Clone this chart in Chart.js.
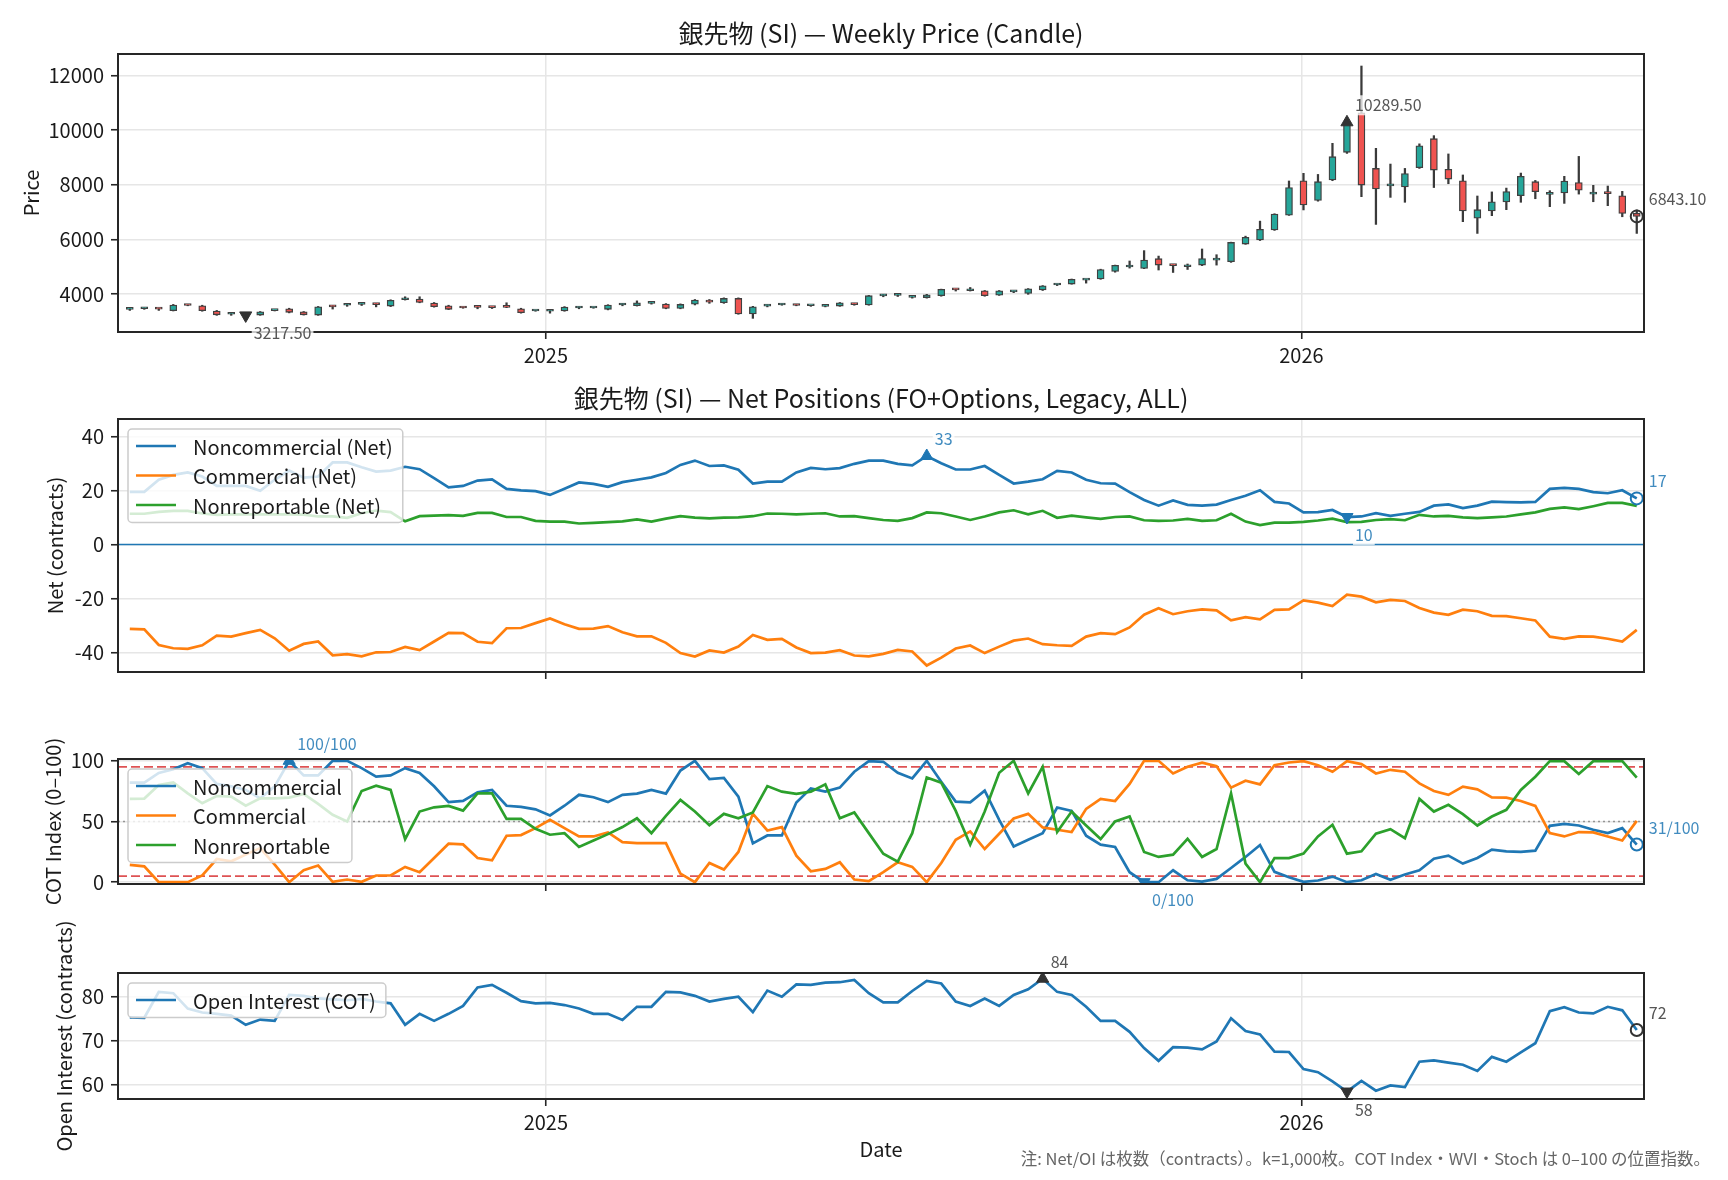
<!DOCTYPE html>
<html>
<head>
<meta charset="utf-8">
<script src="https://cdn.jsdelivr.net/npm/chart.js@4.4.1/dist/chart.umd.min.js"></script>
<style>
html, body { margin: 0; padding: 0; background: #fff; }
#wrap { position: relative; width: 1728px; height: 1180px; }
#wrap canvas { position: absolute; left: 0; top: 0; }
</style>
</head>
<body>
<div id="wrap">
  <canvas id="price" width="1728" height="1180"></canvas>
  <canvas id="net" width="1728" height="1180"></canvas>
  <canvas id="cot" width="1728" height="1180"></canvas>
  <canvas id="oi" width="1728" height="1180"></canvas>
</div>
<script>
// ---- data (weekly, 105 weeks) ----
const DAY = 86400000;
const START = Date.UTC(2024, 5, 14);
const weeks = Array.from({ length: 105 }, (_, i) => START + i * 7 * DAY);
const yearTicks = [Date.UTC(2025, 0, 1), Date.UTC(2026, 0, 1)];
const yearLabels = ['2025', '2026'];

const open = [3440,3460,3470,3390,3590,3570,3380,3260,3270,3230,
  3390,3460,3350,3230,3560,3590,3620,3640,3560,3790,
  3820,3670,3570,3500,3530,3510,3530,3460,3380,3370,
  3380,3490,3490,3440,3600,3570,3660,3630,3475,3630,
  3780,3680,3840,3270,3560,3600,3600,3570,3550,3560,
  3650,3600,3930,3950,3880,3870,3940,4160,4120,4120,
  3960,4080,4020,4150,4330,4365,4510,4550,4830,4990,
  4940,5295,5060,5000,5060,5240,5185,5830,5980,6345,
  6890,8150,7430,8175,9190,10640,8600,7960,7920,8630,
  9690,8570,8150,6780,7040,7370,7600,8115,7650,7700,
  8080,7660,7700,7600,6960];
const high = [3480,3500,3480,3620,3610,3590,3400,3300,3290,3360,
  3420,3480,3360,3545,3580,3650,3680,3660,3790,3900,
  3900,3690,3590,3520,3550,3530,3680,3480,3400,3400,
  3540,3530,3510,3610,3650,3750,3700,3650,3640,3800,
  3800,3860,3860,3550,3610,3640,3620,3590,3590,3690,
  3660,3950,3990,3990,3920,3990,4180,4190,4240,4130,
  4130,4120,4200,4310,4360,4550,4540,4910,5060,5210,
  5590,5390,5080,5100,5650,5440,5900,6120,6670,6940,
  8140,8420,8380,9520,10300,12350,9336,8760,8600,9500,
  9800,9130,8360,7590,7740,7880,8430,8160,7785,8310,
  9040,7980,7955,7760,7080];
const low = [3400,3440,3400,3380,3570,3370,3220,3220,3180,3220,
  3380,3310,3230,3220,3450,3550,3580,3530,3540,3780,
  3680,3520,3430,3480,3460,3470,3500,3300,3370,3300,
  3370,3460,3480,3420,3570,3560,3630,3460,3460,3600,
  3660,3660,3260,3110,3530,3590,3570,3550,3530,3550,
  3590,3590,3900,3910,3850,3850,3920,4110,4110,3920,
  3950,4050,3990,4130,4310,4360,4400,4540,4800,4950,
  4930,4880,4790,4900,5040,5060,5160,5820,5960,6330,
  6880,7080,7400,8150,9150,7565,6550,7540,7360,8600,
  7900,8040,6650,6220,6870,7090,7360,7490,7200,7320,
  7660,7380,7235,6830,6220];
const close = [3450,3480,3450,3600,3580,3390,3240,3280,3217.5,3350,
  3410,3330,3240,3535,3530,3610,3640,3610,3770,3800,
  3690,3540,3440,3490,3510,3500,3510,3320,3380,3370,
  3520,3495,3500,3600,3610,3680,3670,3475,3620,3780,
  3700,3840,3270,3535,3575,3625,3580,3575,3560,3680,
  3610,3940,3950,3955,3890,3975,4170,4150,4130,3940,
  4120,4090,4195,4300,4345,4540,4515,4900,5050,5010,
  5245,5060,5040,5010,5300,5250,5890,6075,6370,6930,
  7900,7260,8115,9030,10289.5,7990,7846,7980,8410,9430,
  8540,8210,7040,7090,7380,7750,8310,7750,7700,8140,
  7800,7690,7680,6950,6843.1];

// net positions, thousand contracts
const ncNet = [19.5,19.5,24,25.8,26.7,25.2,21.7,21.7,21.7,19.9,
  24,27.4,24.8,25.2,30.4,30.4,28.6,27,27.4,28.8,
  27.9,24.6,21.2,21.7,23.7,24.1,20.6,20.1,19.8,18.4,
  20.7,23,22.5,21.4,23.1,24,24.9,26.5,29.5,31.1,
  29.1,29.3,27.7,22.6,23.3,23.3,26.7,28.4,27.9,28.3,
  29.9,31.1,31.1,29.9,29.3,32.8,30.1,27.8,27.8,29.1,
  25.8,22.6,23.3,24.2,27.3,26.7,24,22.7,22.6,19.4,
  16.5,14.4,16.3,14.7,14.4,14.8,16.5,18.1,20.1,15.8,
  15.2,11.9,12,12.8,10.2,10.4,11.6,10.6,11.4,12.1,
  14.4,14.9,13.5,14.4,15.9,15.7,15.6,15.8,20.6,21,
  20.6,19.4,19,20.1,17.1];
const cmNet = [-31.2,-31.4,-37.2,-38.4,-38.6,-37.3,-33.7,-34.1,-32.8,-31.6,
  -34.7,-39.3,-36.8,-35.9,-41,-40.6,-41.4,-39.9,-39.8,-37.9,
  -39.1,-35.9,-32.7,-32.8,-36,-36.5,-31,-30.9,-29.1,-27.4,
  -29.5,-31.2,-31.1,-30.2,-32.5,-34,-34,-36.4,-40.2,-41.5,
  -39.2,-40,-37.8,-33.5,-35.3,-34.9,-38.1,-40.2,-40,-39.1,
  -41.1,-41.4,-40.5,-39,-39.6,-44.8,-41.9,-38.5,-37.4,-40.2,
  -37.8,-35.6,-34.8,-36.9,-37.3,-37.5,-34.1,-32.8,-33.2,-30.7,
  -26,-23.6,-25.8,-24.7,-24,-24.4,-28.1,-26.9,-27.7,-24.2,
  -24,-20.7,-21.5,-22.8,-18.6,-19.3,-21.4,-20.5,-20.9,-23.5,
  -25.2,-26,-24.1,-24.7,-26.4,-26.5,-27.3,-28.1,-34.1,-34.9,
  -34,-34.1,-34.9,-35.9,-31.6];
const nrNet = [11.4,11.4,12.1,12.5,12.5,11.5,11,11.2,11.2,11.2,
  11.2,11.2,11.1,10.4,10.4,9.9,11.6,12.6,12,8.6,
  10.5,10.7,10.9,10.6,11.7,11.7,10.2,10.2,8.8,8.5,
  8.5,7.8,8,8.3,8.6,9.3,8.5,9.6,10.5,10,
  9.7,10,10.1,10.5,11.5,11.4,11.2,11.4,11.6,10.4,
  10.5,9.8,9.1,8.8,9.8,11.9,11.6,10.4,9.1,10.4,
  11.9,12.7,11.2,12.5,9.9,10.7,10.1,9.5,10.2,10.4,
  9,8.8,8.9,9.5,8.8,9,11.4,8.5,7.2,8.1,
  8.1,8.4,8.9,9.6,8.3,8.4,9.1,9.4,9,11,
  10.4,10.6,10.1,9.8,10.1,10.4,11.2,11.9,13.2,13.8,
  13.1,14.2,15.4,15.4,14.3];

// COT index 0-100
const ncIdx = [82,82,90,93,98,94,81,79,76,69,
  79,100,88,88,100,100,94,87,88,94,
  90,79,66,67,74,76,63,62,60,55,
  63,72,70,66,72,73,76,73,92,100,
  85,86,70.5,32,38.5,38.5,65.6,77.3,74.6,77.9,
  91,99.7,99.2,90.2,85.5,100,82.8,66.4,65.8,75.4,
  51.4,29.5,35,40.4,61.5,58.7,38.3,30.9,29,8.2,
  0,0,9.8,1.6,0.5,2.7,11.7,20.8,30.6,8.5,
  4,0.3,1.4,4.6,0,1.6,6.8,1.9,6.3,9.8,
  19.4,21.9,15.3,19.9,26.8,25.4,24.9,26,46.4,48.1,
  46.7,43.2,40.4,44.5,31];
const cmIdx = [14.2,13.1,0,0,0,5.5,19.1,17.2,22.7,28.1,
  14.5,0,9.8,13.7,0.3,2.2,0.3,5.5,5.5,12.6,
  8.2,19.9,31.7,31.1,19.9,18,38.3,38.8,44.5,51.4,
  44.5,37.7,37.7,41,33,32.2,32.2,32.2,7.1,0,
  15.8,10.4,24.9,56.3,42.6,45.4,21.9,9,10.9,16.4,
  2.2,0.8,8.2,16.4,12.6,0,15.8,35,41.8,27.3,
  39.9,52.5,56.3,45.1,43.2,41.3,60.4,68.6,66.9,80.9,
  100,100,89.6,95.1,98.4,95.6,77.9,83.6,80.6,96.4,
  98.6,99.7,96.4,91,99.7,97.3,89.6,92.6,91,81.4,
  75.1,71.9,78.7,76.5,69.9,69.7,66.9,62.8,40.4,37.7,
  41.3,41,37.7,34.4,50.5];
const nrIdx = [68.6,68.9,80,82.2,73.2,65,71,70.5,63.1,69.1,
  69.1,69.7,72.7,64.5,55.5,50,75.1,79.5,76,35.5,
  58.2,61.7,62.8,59,73.2,73.2,52.2,52.2,44,39.1,
  40.4,29,34.4,39.6,45.4,52.7,40.4,54.6,67.8,58.2,
  47,56.3,52.7,57.4,79.2,74.6,72.7,74.6,80.6,52.7,
  57.4,40.4,23.5,16.9,40.4,86.3,82,58.7,30.9,58.2,
  90.2,100,73.2,95.1,41.3,58.2,46.7,35.5,50,54.1,
  24.9,20.8,22.7,35.8,20.8,27.3,73.2,15.3,0,19.9,
  19.9,23.5,37.7,47.3,23.5,25.4,39.9,43.7,36.3,68.6,
  58.2,63.7,56,46.7,54.1,59.6,76,86.9,99.7,99.7,
  89.1,99.7,99.7,99.7,86.1];

// open interest, thousand contracts
const oi = [75.3,75.2,81.1,80.8,77.3,76.4,76.1,75.7,73.6,74.8,
  74.5,80.4,80.2,79.6,79.4,79.2,79.5,78.9,78.5,73.6,
  76.1,74.5,76.1,77.9,82.1,82.7,80.9,79,78.5,78.6,
  78.1,77.3,76.1,76.1,74.7,77.7,77.7,81.1,81,80.2,
  78.9,79.5,80,76.5,81.4,80,82.8,82.7,83.2,83.3,
  83.8,80.8,78.7,78.7,81.3,83.6,83,78.9,77.9,79.6,
  77.9,80.4,81.7,84.1,81.1,80.4,77.7,74.5,74.5,72,
  68.3,65.4,68.5,68.4,68,69.8,75.1,72.2,71.4,67.5,
  67.4,63.5,62.8,60.7,58.4,60.8,58.6,59.8,59.4,65.2,
  65.5,65,64.5,63.1,66.3,65.2,67.3,69.4,76.7,77.6,
  76.4,76.2,77.7,76.9,72.4];

const priceTicks = [4000, 6000, 8000, 10000, 12000];
const netTicks = [-40, -20, 0, 20, 40];
const cotTicks = [0, 50, 100];
const oiTicks = [60, 70, 80];

// ---- styling ----
const FONT = '"Noto Sans CJK JP", "Noto Sans", sans-serif';
const TEXT = '#1a1a1a';
const GRID = '#e6e6e6';
const FRAME = '#262626';
const C0 = '#1f77b4', C1 = '#ff7f0e', C2 = '#2ca02c';
const UP = '#26a69a', DOWN = '#ef5350';
const PLOT_LEFT = 118, PLOT_RIGHT = 1644;
const X_MIN = weeks[0] - 5.7 * DAY, X_MAX = weeks[weeks.length - 1] + 3.5 * DAY;

function font(size) { return size + 'px ' + FONT; }

function extremes(values) {
  let hi = 0, lo = 0;
  values.forEach((v, i) => {
    if (v > values[hi]) hi = i;
    if (v < values[lo]) lo = i;
  });
  return { hi, lo, last: values.length - 1 };
}

function markerSets(values, color) {
  const e = extremes(values);
  const base = { type: 'line', showLine: false, order: -1, pointBorderColor: color };
  return [
    Object.assign({}, base, { data: [{ x: weeks[e.hi], y: values[e.hi] }], pointStyle: 'triangle', pointRadius: 7, pointBackgroundColor: color }),
    Object.assign({}, base, { data: [{ x: weeks[e.lo], y: values[e.lo] }], pointStyle: 'triangle', pointRotation: 180, pointRadius: 7, pointBackgroundColor: color }),
    Object.assign({}, base, { data: [{ x: weeks[e.last], y: values[e.last] }], pointStyle: 'circle', pointRadius: 6, pointBorderWidth: 2, pointBackgroundColor: 'rgba(0,0,0,0)' })
  ];
}

function notesFor(values, fmt, color) {
  const e = extremes(values);
  return [
    { x: weeks[e.hi], y: values[e.hi], text: fmt(values[e.hi]), dx: 8, dy: -17, color },
    { x: weeks[e.lo], y: values[e.lo], text: fmt(values[e.lo]), dx: 8, dy: 18, color },
    { x: weeks[e.last], y: values[e.last], text: fmt(values[e.last]), dx: 12, dy: -17, color }
  ];
}

function lineSet(label, values, color, order) {
  return {
    label, data: weeks.map((x, i) => ({ x, y: values[i] })),
    borderColor: color, backgroundColor: color, borderWidth: 2.7,
    pointRadius: 0, tension: 0, order
  };
}

// draws titles, axis labels, reference lines, legend box, frame and value notes
const panelPlugin = {
  id: 'panel',
  beforeDatasetsDraw(chart, args, o) {
    const ctx = chart.ctx, a = chart.chartArea, y = chart.scales.y;
    ctx.save();
    ctx.beginPath();
    ctx.rect(a.left, a.top, a.right - a.left, a.bottom - a.top);
    ctx.clip();
    (o.refLines || []).forEach(r => {
      const py = y.getPixelForValue(r.value);
      ctx.strokeStyle = r.color;
      ctx.lineWidth = r.width;
      ctx.setLineDash(r.dash || []);
      ctx.beginPath();
      ctx.moveTo(a.left, py);
      ctx.lineTo(a.right, py);
      ctx.stroke();
    });
    ctx.restore();
  },
  afterDatasetsDraw(chart, args, o) {
    const ctx = chart.ctx, a = chart.chartArea;
    // legend
    if (o.legend) {
      ctx.save();
      ctx.font = font(20);
      const tw = Math.max(...o.legend.map(it => ctx.measureText(it.label).width));
      const bx = a.left + 10, by = a.top + 10;
      const bw = 75 + tw, bh = o.legend.length * 29.5 + 5;
      ctx.beginPath();
      if (ctx.roundRect) ctx.roundRect(bx, by, bw, bh, 4); else ctx.rect(bx, by, bw, bh);
      ctx.fillStyle = 'rgba(255,255,255,0.8)';
      ctx.fill();
      ctx.strokeStyle = '#cccccc';
      ctx.lineWidth = 1.5;
      ctx.stroke();
      o.legend.forEach((it, k) => {
        const cy = by + 17 + k * 29.5;
        ctx.strokeStyle = it.color;
        ctx.lineWidth = 2.7;
        ctx.beginPath();
        ctx.moveTo(bx + 8, cy);
        ctx.lineTo(bx + 48, cy);
        ctx.stroke();
        ctx.fillStyle = TEXT;
        ctx.textBaseline = 'middle';
        ctx.textAlign = 'left';
        ctx.fillText(it.label, bx + 65, cy + 1);
      });
      ctx.restore();
    }
    // frame
    ctx.save();
    ctx.strokeStyle = FRAME;
    ctx.lineWidth = 2;
    ctx.strokeRect(a.left, a.top, a.right - a.left, a.bottom - a.top);
    ctx.restore();
    // notes
    (o.notes || []).forEach(n => {
      const px = chart.scales.x.getPixelForValue(n.x) + n.dx;
      const py = chart.scales.y.getPixelForValue(n.y) + n.dy;
      ctx.save();
      ctx.font = font(16);
      const w = ctx.measureText(n.text).width;
      ctx.fillStyle = 'rgba(255,255,255,0.75)';
      ctx.fillRect(px - 2, py - 10, w + 4, 20);
      ctx.fillStyle = n.color;
      ctx.textBaseline = 'middle';
      ctx.textAlign = 'left';
      ctx.fillText(n.text, px, py);
      ctx.restore();
    });
  },
  afterDraw(chart, args, o) {
    const ctx = chart.ctx, a = chart.chartArea;
    ctx.save();
    ctx.fillStyle = TEXT;
    ctx.textBaseline = 'middle';
    if (o.title) {
      ctx.font = font(25);
      ctx.textAlign = 'center';
      ctx.fillText(o.title.text, (a.left + a.right) / 2, o.title.y);
    }
    if (o.xlabel) {
      ctx.font = font(20);
      ctx.textAlign = 'center';
      ctx.fillText(o.xlabel.text, (a.left + a.right) / 2, o.xlabel.y);
    }
    if (o.ylabel) {
      ctx.save();
      ctx.translate(o.ylabel.x, (a.top + a.bottom) / 2);
      ctx.rotate(-Math.PI / 2);
      ctx.font = font(20);
      ctx.textAlign = 'center';
      ctx.fillText(o.ylabel.text, 0, 0);
      ctx.restore();
    }
    if (o.footnote) {
      ctx.font = font(16.5);
      ctx.fillStyle = '#666';
      ctx.textAlign = 'right';
      ctx.fillText(o.footnote.text, o.footnote.x, o.footnote.y);
    }
    ctx.restore();
  }
};
Chart.register(panelPlugin);

function xScale(showLabels) {
  return {
    type: 'linear', min: X_MIN, max: X_MAX, offset: false,
    afterBuildTicks: s => { s.ticks = yearTicks.map(v => ({ value: v })); },
    afterFit: s => { s.height = 40; },
    ticks: {
      display: showLabels, autoSkip: false, maxRotation: 0, padding: 4,
      font: { family: FONT, size: 20 }, color: TEXT,
      callback: (v, i) => yearLabels[i]
    },
    grid: { color: GRID, lineWidth: 1.5, offset: false, drawTicks: true, tickLength: 7, tickColor: FRAME, tickWidth: 1.6 },
    border: { display: false }
  };
}

function yScale(min, max, ticks) {
  return {
    type: 'linear', min, max,
    afterBuildTicks: s => { s.ticks = ticks.map(v => ({ value: v })); },
    afterFit: s => { s.width = PLOT_LEFT; },
    ticks: { padding: 7, font: { family: FONT, size: 20 }, color: TEXT, callback: v => String(v) },
    grid: { color: GRID, lineWidth: 1.5, drawTicks: true, tickLength: 7, tickColor: FRAME, tickWidth: 1.6 },
    border: { display: false }
  };
}

function options(top, bottom, showX, y, panel) {
  return {
    responsive: false, animation: false, events: [], devicePixelRatio: 1,
    layout: { padding: { left: 0, right: 1728 - PLOT_RIGHT, top: top, bottom: 1180 - bottom - 40 } },
    plugins: { legend: { display: false }, tooltip: { enabled: false }, panel },
    scales: { x: xScale(showX), y }
  };
}

// ---- price (candles as floating bars) ----
new Chart(document.getElementById('price'), {
  type: 'bar',
  data: {
    datasets: [
      {
        label: 'wick', data: weeks.map((x, i) => ({ x, y: [low[i], high[i]] })),
        backgroundColor: '#3a3a3a', barThickness: 2, maxBarThickness: 1.6, grouped: false, order: 2
      },
      {
        label: 'body', data: weeks.map((x, i) => ({ x, y: [open[i], close[i]] })),
        backgroundColor: close.map((c, i) => (c >= open[i] ? UP : DOWN)),
        borderColor: '#404040', borderWidth: 1.3, borderSkipped: false,
        barThickness: 7, maxBarThickness: 7, minBarLength: 2, grouped: false, order: 1
      },
      ...markerSets(close, '#333')
    ]
  },
  options: options(54, 332, true, yScale(2610, 12790, priceTicks), {
    title: { text: '銀先物 (SI) — Weekly Price (Candle)', y: 33 },
    ylabel: { text: 'Price', x: 31 },
    notes: notesFor(close, v => v.toFixed(2), '#555')
  })
});

// ---- net positions ----
new Chart(document.getElementById('net'), {
  type: 'line',
  data: {
    datasets: [
      lineSet('Noncommercial (Net)', ncNet, C0, 3),
      lineSet('Commercial (Net)', cmNet, C1, 2),
      lineSet('Nonreportable (Net)', nrNet, C2, 1),
      ...markerSets(ncNet, C0)
    ]
  },
  options: options(419, 672, false, yScale(-47.2, 46.5, netTicks), {
    title: { text: '銀先物 (SI) — Net Positions (FO+Options, Legacy, ALL)', y: 398 },
    ylabel: { text: 'Net (contracts)', x: 55 },
    refLines: [{ value: 0, color: C0, width: 1.6 }],
    legend: [
      { label: 'Noncommercial (Net)', color: C0 },
      { label: 'Commercial (Net)', color: C1 },
      { label: 'Nonreportable (Net)', color: C2 }
    ],
    notes: notesFor(ncNet, v => String(Math.round(v)), 'rgba(31,119,180,0.85)')
  })
});

// ---- COT index ----
new Chart(document.getElementById('cot'), {
  type: 'line',
  data: {
    datasets: [
      lineSet('Noncommercial', ncIdx, C0, 3),
      lineSet('Commercial', cmIdx, C1, 2),
      lineSet('Nonreportable', nrIdx, C2, 1),
      ...markerSets(ncIdx, C0)
    ]
  },
  options: options(759, 884, false, yScale(-1.5, 101.5, cotTicks), {
    ylabel: { text: 'COT Index (0–100)', x: 53 },
    refLines: [
      { value: 95, color: 'rgba(214,39,40,0.8)', width: 1.6, dash: [9, 4] },
      { value: 5, color: 'rgba(214,39,40,0.8)', width: 1.6, dash: [9, 4] },
      { value: 50, color: 'rgba(128,128,128,0.8)', width: 1.5, dash: [2, 3] }
    ],
    legend: [
      { label: 'Noncommercial', color: C0 },
      { label: 'Commercial', color: C1 },
      { label: 'Nonreportable', color: C2 }
    ],
    notes: notesFor(ncIdx, v => Math.round(v) + '/100', 'rgba(31,119,180,0.85)')
  })
});

// ---- open interest ----
new Chart(document.getElementById('oi'), {
  type: 'line',
  data: {
    datasets: [
      lineSet('Open Interest (COT)', oi, C0, 1),
      ...markerSets(oi, '#333')
    ]
  },
  options: options(973, 1099, true, yScale(56.7, 85.4, oiTicks), {
    ylabel: { text: 'Open Interest (contracts)', x: 64 },
    xlabel: { text: 'Date', y: 1149 },
    footnote: { text: '注: Net/OI は枚数（contracts）。k=1,000枚。COT Index・WVI・Stoch は 0–100 の位置指数。', x: 1710, y: 1159 },
    legend: [{ label: 'Open Interest (COT)', color: C0 }],
    notes: notesFor(oi, v => String(Math.round(v)), '#555')
  })
});
</script>
</body>
</html>
